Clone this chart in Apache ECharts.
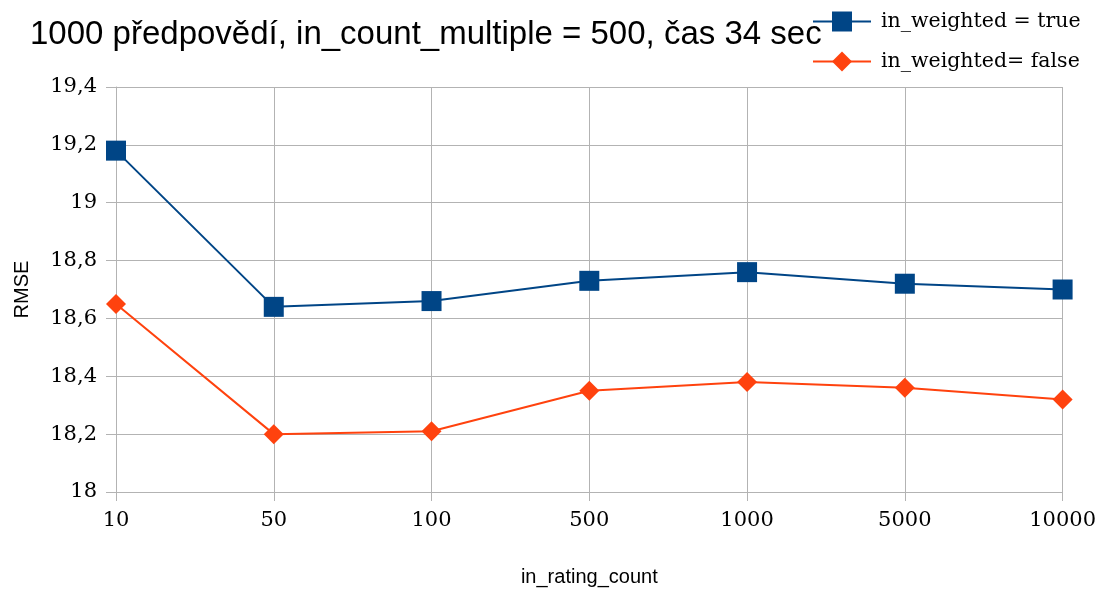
<!DOCTYPE html>
<html>
<head>
<meta charset="utf-8">
<script src="https://cdn.jsdelivr.net/npm/echarts@6/dist/echarts.min.js"></script>
<style>
  html, body { margin: 0; padding: 0; background: #fff; }
  #chart { width: 1099px; height: 592px; }
</style>
</head>
<body>
<div id="chart"></div>
<script>
const categories = ["10", "50", "100", "500", "1000", "5000", "10000"];
const weightedTrue = [19.18, 18.64, 18.66, 18.73, 18.76, 18.72, 18.70];
const weightedFalse = [18.65, 18.20, 18.21, 18.35, 18.38, 18.36, 18.32];

const chart = echarts.init(document.getElementById("chart"));

const gridColor = "#b3b3b3";
const serif = "DejaVu Serif";
const sans = "Liberation Sans";

const option = {
    animation: false,
    title: {
        text: "1000 předpovědí, in_count_multiple = 500, čas 34 sec",
        left: 25,
        top: 13,
        textStyle: {
            fontFamily: sans,
            fontSize: 33,
            fontWeight: "normal",
            color: "#000",
        },
    },
    legend: {
        orient: "vertical",
        left: 807,
        top: 6,
        itemWidth: 58,
        itemHeight: 25,
        itemGap: 15,
        textStyle: {
            fontFamily: serif,
            fontSize: 20.5,
            color: "#000",
            padding: [0, 0, 0, 5],
        },
    },
    grid: {
        left: 116,
        right: 36,
        top: 87,
        bottom: 100,
    },
    xAxis: {
        type: "category",
        data: categories,
        boundaryGap: false,
        name: "in_rating_count",
        nameLocation: "middle",
        nameGap: 75,
        nameTextStyle: { fontFamily: sans, fontSize: 20, color: "#000" },
        axisLine: { lineStyle: { color: gridColor, width: 1 } },
        axisTick: { show: true, length: 9, lineStyle: { color: gridColor } },
        axisLabel: {
            fontFamily: serif,
            fontSize: 21,
            color: "#000",
            margin: 18,
        },
        splitLine: { show: true, lineStyle: { color: gridColor, width: 1 } },
    },
    yAxis: {
        type: "value",
        min: 18,
        max: 19.4,
        interval: 0.2,
        name: "RMSE",
        nameLocation: "middle",
        nameGap: 84,
        nameTextStyle: { fontFamily: sans, fontSize: 20, color: "#000" },
        axisLine: { show: true, lineStyle: { color: gridColor, width: 1 } },
        axisTick: { show: true, length: 10, lineStyle: { color: gridColor } },
        axisLabel: {
            fontFamily: serif,
            fontSize: 21,
            color: "#000",
            margin: 19,
            formatter: (v) => String(Math.round(v * 10) / 10).replace(".", ","),
        },
        splitLine: { show: true, lineStyle: { color: gridColor, width: 1 } },
    },
    series: [
        {
            name: "in_weighted = true",
            type: "line",
            data: weightedTrue,
            symbol: "rect",
            symbolSize: 20,
            itemStyle: { color: "#004586" },
            lineStyle: { color: "#004586", width: 2 },
        },
        {
            name: "in_weighted= false",
            type: "line",
            data: weightedFalse,
            symbol: "diamond",
            symbolSize: 20,
            itemStyle: { color: "#ff420e" },
            lineStyle: { color: "#ff420e", width: 2 },
        },
    ],
};

option.legend.itemGap = 19;

chart.setOption(option);
</script>
</body>
</html>
